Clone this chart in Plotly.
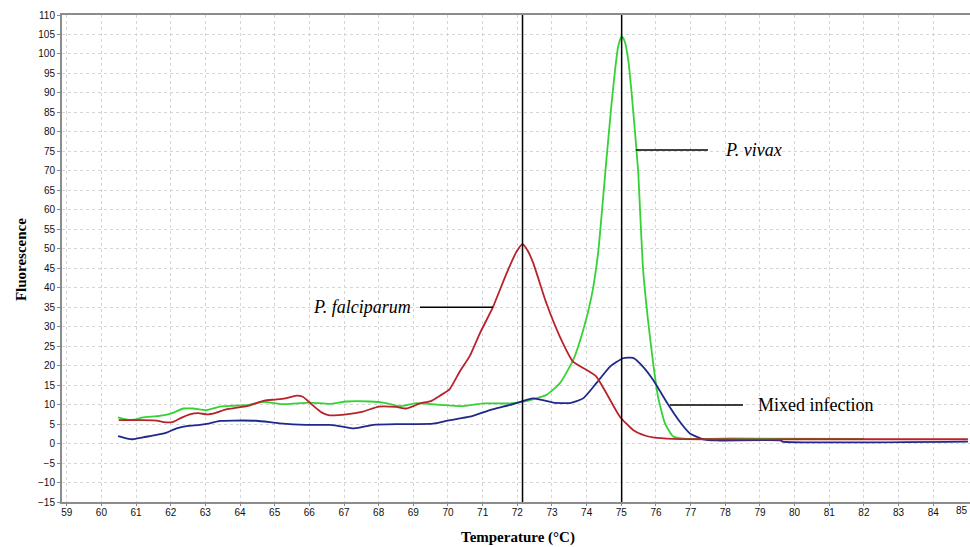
import plotly.graph_objects as go

# Melting-curve traces (temperature in °C, fluorescence)
falciparum_temp = [60.5, 60.8, 61.2, 61.6, 61.8, 62.05, 62.3, 62.55, 62.8, 63.05, 63.3, 63.6,
                   63.9, 64.2, 64.45, 64.7, 65.0, 65.3, 65.63, 65.81, 66.1, 66.35, 66.55, 67.07,
                   67.55, 68.0, 68.5, 68.8, 69.2, 69.5, 69.77, 70.05, 70.34, 70.63, 70.92, 71.3,
                   71.69, 71.98, 72.15, 72.3, 72.46, 72.84, 73.23, 73.61, 74.0, 74.28, 74.57,
                   74.96, 75.34, 75.7, 75.95, 76.5, 77.5, 80.0, 85.0]
falciparum_fluo = [6.0, 6.0, 6.0, 5.9, 5.5, 5.5, 6.6, 7.5, 7.8, 7.5, 7.9, 8.8,
                   9.2, 9.6, 10.3, 11.0, 11.3, 11.6, 12.3, 12.0, 9.8, 8.0, 7.3, 7.5,
                   8.2, 9.5, 9.4, 9.0, 10.3, 10.9, 12.3, 14.0, 18.5, 22.5, 28.3, 35.1,
                   43.7, 49.3, 51.2, 49.5, 46.3, 36.0, 27.4, 21.0, 18.9, 17.2, 12.9,
                   6.9, 3.5, 2.0, 1.5, 1.2, 1.1, 1.1, 1.1]

vivax_temp = [60.48, 60.6, 60.8, 61.0, 61.2, 61.68, 62.07, 62.36, 62.65, 63.03, 63.42, 63.8,
              64.23, 64.67, 65.24, 66.01, 66.59, 67.07, 67.74, 68.22, 68.61, 69.09, 69.67,
              70.44, 71.02, 71.79, 72.2, 72.84, 73.23, 73.61, 73.9, 74.14, 74.33, 74.43,
              74.57, 74.72, 74.82, 74.91, 75.01, 75.1, 75.2, 75.29, 75.39, 75.49, 75.54,
              75.63, 75.77, 75.92, 76.06, 76.26, 76.5, 76.88, 77.5, 78.2, 82.0]
vivax_fluo = [6.7, 6.4, 6.1, 6.2, 6.7, 7.1, 7.9, 9.0, 9.0, 8.6, 9.5, 9.7,
              9.9, 10.7, 10.1, 10.5, 10.2, 10.8, 10.8, 10.4, 9.6, 10.4, 10.0,
              9.6, 10.3, 10.3, 10.8, 12.5, 15.5, 21.4, 29.1, 37.7, 48.8, 58.5,
              72.8, 87.3, 95.9, 101.9, 104.6, 103.2, 98.5, 90.7, 80.5, 69.4, 60.0,
              44.5, 31.7, 20.6, 12.0, 5.2, 1.8, 1.2, 1.2, 1.3, 1.2]

mixed_temp = [60.48, 60.72, 60.91, 61.2, 61.59, 61.88, 62.17, 62.46, 62.84, 63.13, 63.42, 63.8,
              64.47, 65.14, 65.91, 66.59, 67.0, 67.26, 67.5, 67.84, 68.51, 69.09, 69.57,
              70.05, 70.63, 71.21, 71.79, 72.27, 72.46, 72.7, 73.04, 73.52, 73.9, 74.28,
              74.67, 75.05, 75.34, 75.63, 75.92, 76.3, 76.69, 76.98, 77.36, 77.75, 79.6,
              79.65, 85.0]
mixed_fluo = [1.9, 1.35, 1.1, 1.6, 2.2, 2.8, 3.9, 4.5, 4.8, 5.2, 5.8, 5.9,
              5.85, 5.2, 4.8, 4.8, 4.3, 3.9, 4.2, 4.8, 5.0, 5.0, 5.1,
              6.0, 6.9, 8.6, 9.9, 11.2, 11.6, 11.2, 10.5, 10.4, 11.6, 15.5,
              19.7, 21.9, 22.0, 19.7, 16.3, 10.75, 5.6, 2.6, 1.1, 0.8, 0.8,
              0.5, 0.5]

x_ticks = list(range(59, 86))
y_ticks = list(range(-15, 111, 5))

RED = "#b8232b"
GREEN = "#35d235"
BLUE = "#1d2a8c"

fig = go.Figure()
for xs, ys, col in [(vivax_temp, vivax_fluo, GREEN),
                    (mixed_temp, mixed_fluo, BLUE),
                    (falciparum_temp, falciparum_fluo, RED)]:
    fig.add_trace(go.Scatter(x=xs, y=ys, mode="lines",
                             line=dict(color=col, width=1.8, shape="spline", smoothing=0.5),
                             hoverinfo="skip", showlegend=False))

# Vertical markers at the melting peaks of the two single-species curves
peak_f = falciparum_temp[falciparum_fluo.index(max(falciparum_fluo))]
peak_v = vivax_temp[vivax_fluo.index(max(vivax_fluo))]
shapes = []
for px in (peak_f, peak_v):
    shapes.append(dict(type="line", xref="x", yref="y", x0=px, x1=px, y0=-15, y1=110,
                       line=dict(color="black", width=1.5), layer="above"))

# Leader lines for the curve labels
leaders = [(69.19, 71.30, 35.0), (75.42, 77.50, 75.35), (76.40, 78.51, 9.9)]
for x0, x1, yv in leaders:
    shapes.append(dict(type="line", xref="x", yref="y", x0=x0, x1=x1, y0=yv, y1=yv,
                       line=dict(color="black", width=1.5), layer="above"))

serif = "Liberation Serif, Times New Roman, serif"
tick_font = dict(family="Liberation Sans, Arial, sans-serif", size=10, color="#111")
annotations = [
    dict(x=68.99, y=35.0, xref="x", yref="y", text="<i>P. falciparum</i>", showarrow=False,
         xanchor="right", yanchor="middle", font=dict(family=serif, size=18, color="black")),
    dict(x=77.93, y=75.35, xref="x", yref="y", text="<i>P. vivax</i>", showarrow=False,
         xanchor="left", yanchor="middle", font=dict(family=serif, size=18, color="black")),
    dict(x=78.9, y=9.9, xref="x", yref="y", text="Mixed infection", showarrow=False,
         xanchor="left", yanchor="middle", font=dict(family=serif, size=18, color="black")),
    dict(x=0.502, y=-0.073, xref="paper", yref="paper", text="<b>Temperature (°C)</b>",
         showarrow=False, xanchor="center", yanchor="middle",
         font=dict(family=serif, size=15, color="black")),
    dict(x=-0.045, y=0.497, xref="paper", yref="paper", text="<b>Fluorescence</b>",
         showarrow=False, xanchor="center", yanchor="middle", textangle=-90,
         font=dict(family=serif, size=15, color="black")),
    # last x tick label, kept inside the right edge of the figure
    dict(x=1.0, y=-0.0174, xref="paper", yref="paper", text=str(x_ticks[-1]),
         showarrow=False, xanchor="right", yanchor="middle", font=tick_font),
]

fig.update_layout(
    width=970, height=547,
    margin=dict(l=62, r=0, t=15, b=45),
    plot_bgcolor="white", paper_bgcolor="white",
    shapes=shapes, annotations=annotations,
    xaxis=dict(range=[58.864, 85.06], tickvals=x_ticks[:-1], ticks="outside", ticklen=2,
               tickcolor="#888", tickfont=tick_font, showgrid=True, gridcolor="#d6d6d6",
               griddash="dot", gridwidth=1, zeroline=False, showline=True,
               linecolor="#8c8c8c", linewidth=2, mirror=True, ticklabelstandoff=-2),
    yaxis=dict(range=[-15, 110], tickvals=y_ticks, ticks="outside", ticklen=3,
               tickcolor="#888", tickfont=tick_font, showgrid=True, gridcolor="#d6d6d6",
               griddash="dot", gridwidth=1, zeroline=False, showline=True,
               linecolor="#8c8c8c", linewidth=2),
)

fig.write_html("out.html")
